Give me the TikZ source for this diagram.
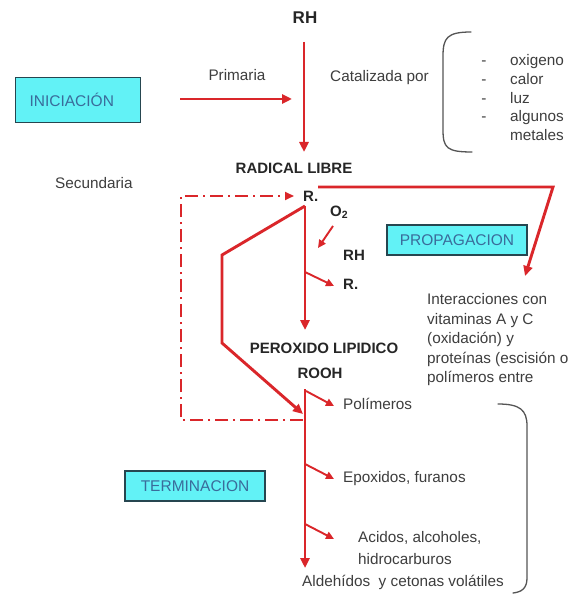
\documentclass[tikz,border=0pt]{standalone}
\usepackage{fontspec}
\setmainfont{Liberation Sans}
\usetikzlibrary{arrows.meta}
\definecolor{redc}{RGB}{218,38,42}
\definecolor{cyanc}{RGB}{98,242,246}
\definecolor{boxborder}{RGB}{38,70,80}
\definecolor{boxtext}{RGB}{58,108,155}
\definecolor{textgray}{RGB}{62,62,62}
\definecolor{bracketgray}{RGB}{85,85,85}
\begin{document}
\begin{tikzpicture}[x=1pt,y=-1pt,
 txt/.style={text=textgray, font=\fontsize{15.3}{18}\selectfont, inner sep=0pt, text height=11pt, text depth=3pt},
 lbl/.style={text=black!85, font=\bfseries\fontsize{15}{18}\selectfont, inner sep=0pt},
 stagebox/.style={draw=boxborder, fill=cyanc, line width=1.1pt, text=boxtext, font=\fontsize{15.5}{17}\selectfont, inner sep=0pt},
 redarrow/.style={draw=redc, line width=2.9pt, -{Triangle[length=10pt,width=9pt]}},
 thinarrow/.style={draw=redc, line width=1.9pt, -{Triangle[length=8pt,width=7.5pt]}},
 dashdot/.style={draw=redc, line width=2.3pt, dash pattern=on 13pt off 5pt on 2pt off 5pt, -{Triangle[length=9pt,width=8pt]}},
 brk/.style={draw=bracketgray, line width=1.3pt, line cap=round}
]
\useasboundingbox (0,0) rectangle (570,612);
\fill[white] (0,0) rectangle (570,612);

% stage boxes
\node[stagebox, minimum width=125pt, minimum height=45pt, text width=97pt, inner xsep=14pt, align=left, anchor=north west] (inic) at (15,77) {INICIACIÓN};
\node[stagebox, minimum width=140pt, minimum height=30pt] (prop) at (457,240) {PROPAGACION};
\node[stagebox, minimum width=140pt, minimum height=30pt] (term) at (195,486) {TERMINACION};

% bold labels
\node[lbl, font=\bfseries\fontsize{17}{20}\selectfont] (rhtop) at (305,18) {RH};
\node[lbl] (radical) at (294,168) {RADICAL LIBRE};
\node[lbl, anchor=west] (r1) at (303,196) {R.};
\node[lbl, anchor=west] (o2) at (330,212) {O\textsubscript{2}};
\node[lbl, anchor=west] (rh2) at (343,255) {RH};
\node[lbl, anchor=west] (r2) at (343,284) {R.};
\node[lbl] (perox) at (324,348) {PEROXIDO LIPIDICO};
\node[lbl] (rooh) at (320,373) {ROOH};

% plain texts
\node[txt] (primaria) at (237,77) {Primaria};
\node[txt, anchor=west] (catal) at (330,78) {Catalizada por};
\node[txt, anchor=west] (secund) at (55,185) {Secundaria};

\node[txt] (d1) at (484,62) {-};
\node[txt] (d2) at (484,81) {-};
\node[txt] (d3) at (484,100) {-};
\node[txt] (d4) at (484,118) {-};
\node[txt, anchor=west] (l1) at (510,62) {oxigeno};
\node[txt, anchor=west] (l2) at (510,81) {calor};
\node[txt, anchor=west] (l3) at (510,100) {luz};
\node[txt, anchor=west] (l4) at (510,118) {algunos};
\node[txt, anchor=west] (l5) at (510,137) {metales};

\node[txt, anchor=west] (i1) at (427,300) {Interacciones con};
\node[txt, anchor=west] (i2) at (427,320) {vitaminas A y C};
\node[txt, anchor=west] (i3) at (427,339) {(oxidación) y};
\node[txt, anchor=west] (i4) at (427,359) {proteínas (escisión o};
\node[txt, anchor=west] (i5) at (427,378) {polímeros entre};

\node[txt, anchor=west] (polim) at (343,405) {Polímeros};
\node[txt, anchor=west] (epox) at (343,478) {Epoxidos, furanos};
\node[txt, anchor=west] (acid) at (358,538) {Acidos, alcoholes,};
\node[txt, anchor=west] (hidro) at (358,560) {hidrocarburos};
\node[txt, anchor=west] (aldeh) at (302,582) {Aldehídos\ \ y cetonas volátiles};

% coordinates
\coordinate (p1) at (180,99);
\coordinate (p2) at (292,99);
\coordinate (v1) at (304,42);
\coordinate (v2) at (304,152);
\coordinate (dd0) at (303,420);
\coordinate (dd1) at (181,420);
\coordinate (dd2) at (181,196);
\coordinate (dd3) at (294,196);
\coordinate (rtop) at (305,206);
\coordinate (lp1) at (222,255);
\coordinate (lp2) at (222,343);
\coordinate (lp3) at (303,414);
\coordinate (m2) at (305,330);
\coordinate (oa) at (333,226);
\coordinate (ob) at (318,248);
\coordinate (rb1) at (305,272);
\coordinate (rb2) at (334,286);
\coordinate (pr1) at (318,187);
\coordinate (pr2) at (553,187);
\coordinate (pr3) at (525,276);
\coordinate (lv1) at (305,389);
\coordinate (lv2) at (305,568);
\coordinate (b1a) at (306,391);
\coordinate (b1b) at (334,406);
\coordinate (b2a) at (305,464);
\coordinate (b2b) at (334,479);
\coordinate (b3a) at (305,524);
\coordinate (b3b) at (334,539);

% connectors
\draw[redarrow] (p1) -- (p2);
\draw[redarrow] (v1) -- (v2);
\draw[dashdot] (dd0) -- (dd1) -- (dd2) -- (dd3);
\draw[redarrow, line join=miter] (rtop) -- (lp1) -- (lp2) -- (lp3);
\draw[redarrow] (rtop) -- (m2);
\draw[thinarrow] (oa) -- (ob);
\draw[thinarrow] (rb1) -- (rb2);
\draw[redarrow, line join=miter] (pr1) -- (pr2) -- (pr3);
\draw[redarrow] (lv1) -- (lv2);
\draw[thinarrow] (b1a) -- (b1b);
\draw[thinarrow] (b2a) -- (b2b);
\draw[thinarrow] (b3a) -- (b3b);

% brackets
\draw[brk] (471,32) .. controls (447,32) and (443,38) .. (443,56) -- (443,130) .. controls (443,148) and (447,152) .. (472,152);
\draw[brk] (498,404) .. controls (520,404) and (527,410) .. (527,426) -- (527,578) .. controls (527,588) and (522,592) .. (513,593);
\end{tikzpicture}
\end{document}
